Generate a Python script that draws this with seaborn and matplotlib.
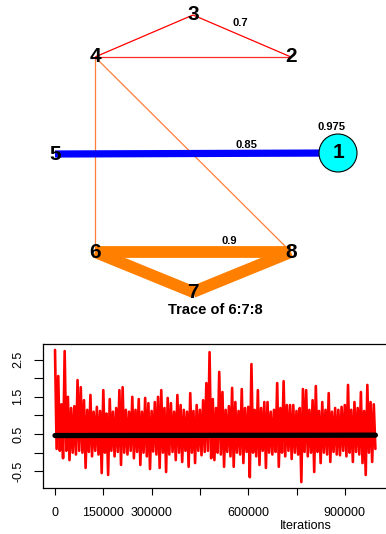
import matplotlib
matplotlib.use("Agg")
import matplotlib.pyplot as plt
from matplotlib.patches import Circle
import seaborn as sns
import pandas as pd

# nodos de la red (coordenadas del layout)
nodos = ["1", "2", "3", "4", "5", "6", "7", "8"]
nodo_x = [338, 291, 193, 95, 55, 95, 193, 291]
nodo_y = [153, 57, 15, 57, 154, 252, 292, 252]

# aristas: origen, destino, grosor, color
aristas = [
    ("3", "4", 0.9, "#FF0000"),
    ("3", "2", 0.9, "#FF0000"),
    ("4", "2", 0.9, "#FF2A2A"),
    ("4", "6", 0.9, "#FF7F3A"),
    ("4", "8", 0.9, "#FF7F3A"),
    ("5", "1", 5.2, "#0000FF"),
    ("6", "8", 8.5, "#FF8000"),
    ("6", "7", 8.5, "#FF8000"),
    ("7", "8", 8.5, "#FF8000"),
]

# etiquetas de probabilidad
etiquetas = ["0.7", "0.975", "0.85", "0.9"]
etiq_x = [240, 332, 246, 229]
etiq_y = [23, 127, 145, 241]

titulo_traza = "Trace of 6:7:8"

# traza MCMC (picos superiores e inferiores)
picos_alto = [
    2.76, 2.06, 1.30, 2.73, 1.50, 1.20, 1.25, 1.95, 1.76, 1.41,
    1.15, 1.55, 1.10, 1.23, 1.12, 1.68, 1.05, 1.44, 1.10, 1.20,
    1.68, 1.76, 1.15, 1.10, 1.50, 1.15, 1.44, 1.10, 1.47, 1.33,
    1.12, 1.36, 1.50, 1.68, 1.20, 1.47, 1.33, 1.10, 1.55, 1.28,
    1.15, 1.10, 1.60, 1.12, 1.28, 1.15, 1.41, 1.87, 2.70, 1.44,
    1.20, 2.17, 1.63, 1.15, 1.25, 1.74, 1.36, 1.12, 1.71, 1.20,
    1.23, 2.38, 1.15, 1.68, 1.20, 1.36, 1.36, 1.10, 1.15, 1.87,
    1.20, 1.92, 1.28, 1.28, 1.28, 1.12, 1.20, 1.71, 1.68, 1.15,
    1.41, 1.79, 1.12, 1.36, 1.15, 1.60, 1.10, 1.20, 1.15, 1.23,
    1.28, 1.82, 1.15, 1.36, 1.20, 1.63, 1.12, 1.82, 1.36, 1.30,
]
picos_bajo = [
    0.10, 0.05, -0.15, 0.05, -0.20, 0.00, -0.05, 0.05, 0.00, -0.41,
    0.02, -0.10, 0.05, -0.05, -0.55, 0.00, -0.60, 0.05, -0.10, 0.02,
    -0.33, 0.00, -0.05, 0.05, -0.15, 0.02, -0.33, 0.00, -0.10, -0.44,
    0.03, -0.05, -0.41, 0.00, -0.52, -0.05, 0.02, -0.20, 0.00, -0.25,
    0.05, -0.38, 0.00, -0.28, 0.05, -0.07, 0.02, 0.05, -0.15, -0.20,
    0.00, -0.05, -0.38, 0.02, -0.10, -0.38, 0.00, -0.05, -0.28, 0.02,
    -0.66, 0.00, -0.10, -0.33, 0.05, -0.41, 0.00, -0.05, 0.02, -0.38,
    0.00, -0.10, 0.05, -0.17, 0.00, -0.05, -0.79, 0.02, -0.10, 0.00,
    -0.52, 0.02, -0.28, 0.00, -0.05, -0.25, 0.02, -0.05, -0.07, 0.05,
    -0.10, 0.00, -0.25, 0.02, -0.05, -0.28, -0.60, 0.00, -0.25, 0.10,
]
paso = 10000

# media acumulada
media_iter = [0, 995000]
media_val = [0.46, 0.47]

x_ticks = [0, 150000, 300000, 450000, 600000, 750000, 900000]
x_labels = ["0", "150000", "300000", "", "600000", "", "900000"]
y_ticks = [-0.5, 0.0, 0.5, 1.0, 1.5, 2.0, 2.5]
y_labels = ["-0.5", "", "0.5", "", "1.5", "", "2.5"]


def dibujar_red(fig):
    ax = fig.add_axes([0, 0, 1, 1])
    ax.set_xlim(0, 386)
    ax.set_ylim(534, 0)
    ax.axis("off")
    pos = {n: (x, y) for n, x, y in zip(nodos, nodo_x, nodo_y)}

    for a, b, w, c in aristas:
        ax.plot([pos[a][0], pos[b][0]], [pos[a][1], pos[b][1]],
                color=c, lw=w, solid_capstyle="butt", zorder=1)

    ax.add_patch(Circle(pos["1"], 19, facecolor="#00FFFF",
                        edgecolor="black", lw=0.8, zorder=2))

    for n in nodos:
        ax.text(pos[n][0], pos[n][1], n, fontsize=15, fontweight="bold",
                ha="center", va="center", color="black", zorder=3)

    for t, x, y in zip(etiquetas, etiq_x, etiq_y):
        ax.text(x, y, t, fontsize=8, fontweight="bold", color="black",
                ha="center", va="center", zorder=3)

    ax.text(215, 310, titulo_traza, fontsize=10.5, fontweight="bold",
            color="black", ha="center", va="center")


def dibujar_traza(fig):
    iters, vals = [], []
    for i, (hi, lo) in enumerate(zip(picos_alto, picos_bajo)):
        iters += [i * paso, i * paso + paso // 2]
        vals += [hi, lo]
    df = pd.DataFrame({"iter": iters, "valor": vals})
    dm = pd.DataFrame({"iter": media_iter, "valor": media_val})

    ax = fig.add_axes([43 / 386, 1 - 488 / 534, 352 / 386, 144 / 534])
    sns.lineplot(data=df, x="iter", y="valor", color="#FF0000", lw=1.9,
                 estimator=None, sort=False, ax=ax)
    sns.lineplot(data=dm, x="iter", y="valor", color="black", lw=3.8,
                 estimator=None, ax=ax)

    ax.set_xlim(-37300, 1055900)
    ax.set_ylim(-0.95, 2.92)
    ax.set_xticks(x_ticks)
    ax.set_xticklabels(x_labels, fontsize=9)
    ax.set_yticks(y_ticks)
    ax.set_yticklabels(y_labels, fontsize=9, rotation=90, va="center")
    ax.tick_params(axis="x", direction="out", length=5, width=0.8, pad=9)
    ax.tick_params(axis="y", direction="out", length=6.5, width=0.8, pad=7)
    ax.spines["right"].set_visible(False)
    for s in ["left", "top", "bottom"]:
        ax.spines[s].set_linewidth(0.9)
        ax.spines[s].set_color("black")
    ax.set_ylabel("")
    ax.set_xlabel("Iterations", fontsize=9)
    ax.xaxis.set_label_coords(0.747, -0.225)


def main():
    sns.set_theme(style="ticks")
    plt.rcParams["font.family"] = ["Liberation Sans", "DejaVu Sans"]
    for k in ["text.color", "axes.labelcolor", "xtick.color", "ytick.color"]:
        plt.rcParams[k] = "black"
    fig = plt.figure(figsize=(3.86, 5.34), dpi=100)
    dibujar_red(fig)
    dibujar_traza(fig)
    fig.savefig("out.png", dpi=100)


main()
